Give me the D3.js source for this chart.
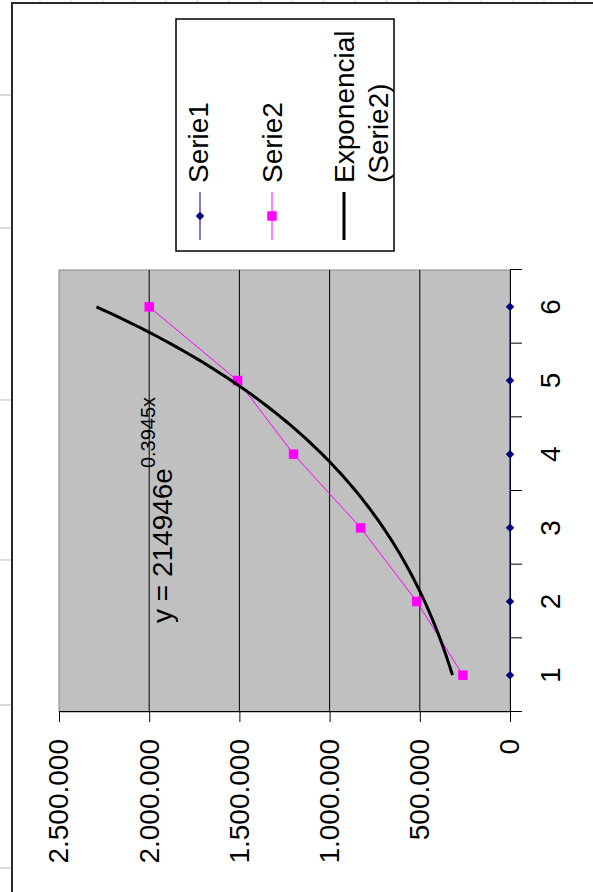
<!DOCTYPE html>
<html>
<head>
<meta charset="utf-8">
<script src="https://cdn.jsdelivr.net/npm/d3@7"></script>
<style>
  html, body { margin: 0; padding: 0; background: #fff; }
  svg { display: block; font-family: Arial, "Liberation Sans", sans-serif; }
</style>
</head>
<body>
<div id="chart"></div>
<script>
(function (d3) {
    'use strict';

    // Data.
    var categories = [1, 2, 3, 4, 5, 6];
    var serie1 = [1, 2, 3, 4, 5, 6];
    var serie2 = [261000, 517000, 828000, 1200000, 1510000, 2000000];
    var valueTicks = [0, 500000, 1000000, 1500000, 2000000, 2500000];
    var gridTicks = [500000, 1000000, 1500000, 2000000];
    var trendA = 214946;
    var trendB = 0.3945;
    var legendNames = ['Serie1', 'Serie2', 'Exponencial', '(Serie2)'];

    var W = 593, H = 892;

    // The chart is drawn upright and then turned a quarter left.
    // u runs along the category axis, v down the value axis.
    var plot = {u0: 180, u1: 622, v0: 59, v1: 510};

    var x = d3.scaleLinear().domain([0.5, 6.5]).range([plot.u0, plot.u1]);
    var y = d3.scaleLinear().domain([0, 2500000]).range([plot.v1, plot.v0]);

    var fmt = d3.formatLocale({decimal: ',', thousands: '.', grouping: [3], currency: ['', '']}).format(',d');

    var svg = d3.select('#chart').append('svg')
        .attr('width', W)
        .attr('height', H);

    // Sheet frame and ruler ticks.
    var rulerY = [95, 228, 400, 560, 705, 868];
    svg.selectAll('.ruler-l').data(rulerY).enter().append('line')
        .attr('x1', 0).attr('x2', 12)
        .attr('y1', function (d) { return d; }).attr('y2', function (d) { return d; })
        .attr('stroke', '#b8b8b8');
    svg.selectAll('.ruler-t').data(d3.range(40, W, 31.5)).enter().append('line')
        .attr('y1', 0).attr('y2', 2)
        .attr('x1', function (d) { return d; }).attr('x2', function (d) { return d; })
        .attr('stroke', '#d8d8d8');
    svg.append('path')
        .attr('d', 'M12,' + H + 'V3H' + W)
        .attr('fill', 'none')
        .attr('stroke', '#2a2a2a')
        .attr('stroke-width', 2);

    var g = svg.append('g')
        .attr('transform', 'translate(0,' + H + ') rotate(-90)');

    // Plot area.
    g.append('rect')
        .attr('x', plot.u0).attr('y', plot.v0)
        .attr('width', plot.u1 - plot.u0).attr('height', plot.v1 - plot.v0)
        .attr('fill', '#c0c0c0')
        .attr('stroke', '#8a8a8a');

    // Gridlines.
    g.selectAll('.grid').data(gridTicks).enter().append('line')
        .attr('x1', plot.u0).attr('x2', plot.u1)
        .attr('y1', function (d) { return y(d); }).attr('y2', function (d) { return y(d); })
        .attr('stroke', '#000');

    // Value axis.
    var yAxis = g.append('g')
        .attr('transform', 'translate(' + plot.u0 + ',0)')
        .call(d3.axisLeft(y).tickValues(valueTicks).tickFormat(fmt).tickSize(10).tickPadding(17));
    yAxis.selectAll('path, line').attr('stroke', '#000');
    yAxis.selectAll('text').attr('font-size', 28).attr('font-family', 'Arial, "Liberation Sans", sans-serif').attr('fill', '#000');

    // Category axis: ticks between categories, labels at the middle.
    var bounds = categories.map(function (c) { return c - 0.5; }).concat([6.5]);
    var xAxis = g.append('g')
        .attr('transform', 'translate(0,' + plot.v1 + ')')
        .call(d3.axisBottom(x).tickValues(bounds).tickFormat('').tickSize(12).tickSizeOuter(0));
    xAxis.selectAll('path, line').attr('stroke', '#000');
    g.selectAll('.cat').data(categories).enter().append('text')
        .attr('x', function (d) { return x(d); })
        .attr('y', 560)
        .attr('text-anchor', 'middle')
        .attr('font-size', 28)
        .text(function (d) { return d; });

    // Excel style markers.
    var diamond = {
        draw: function (ctx, size) {
            var r = Math.sqrt(size / 2);
            ctx.moveTo(0, -r); ctx.lineTo(r, 0); ctx.lineTo(0, r); ctx.lineTo(-r, 0); ctx.closePath();
        }
    };
    var diamondPath = d3.symbol().type(diamond).size(36)();
    var squarePath = d3.symbol().type(d3.symbolSquare).size(90)();

    var line = d3.line()
        .x(function (d, i) { return x(categories[i]); })
        .y(function (d) { return y(d); });

    // Serie1.
    g.append('path').datum(serie1)
        .attr('d', line).attr('fill', 'none').attr('stroke', '#000080');
    g.selectAll('.s1').data(serie1).enter().append('path')
        .attr('d', diamondPath)
        .attr('transform', function (d, i) { return 'translate(' + x(categories[i]) + ',' + y(d) + ')'; })
        .attr('fill', '#000080');

    // Serie2.
    g.append('path').datum(serie2)
        .attr('d', line).attr('fill', 'none').attr('stroke', '#ff00ff');
    g.selectAll('.s2').data(serie2).enter().append('path')
        .attr('d', squarePath)
        .attr('transform', function (d, i) { return 'translate(' + x(categories[i]) + ',' + y(d) + ')'; })
        .attr('fill', '#ff00ff');

    // Exponential trendline of Serie2, from its shown formula.
    var trendX = d3.range(1, 6.001, 0.05);
    g.append('path').datum(trendX)
        .attr('d', d3.line()
            .x(function (d) { return x(d); })
            .y(function (d) { return y(trendA * Math.exp(trendB * d)); }))
        .attr('fill', 'none')
        .attr('stroke', '#000')
        .attr('stroke-width', 3);

    // Equation label.
    var eq = g.append('text')
        .attr('x', 269).attr('y', 172)
        .attr('font-size', 28);
    eq.append('tspan').text('y = ' + trendA + 'e');
    eq.append('tspan').attr('dy', -17).attr('font-size', 20).text(trendB + 'x');

    // Legend.
    var lg = g.append('g').attr('transform', 'translate(641,176)');
    lg.append('rect')
        .attr('width', 232).attr('height', 218)
        .attr('fill', '#fff').attr('stroke', '#000').attr('stroke-width', 1.5);

    var entries = [
        {v: 24, color: '#000080', marker: diamondPath, width: 1},
        {v: 96, color: '#ff00ff', marker: squarePath, width: 1},
        {v: 168, color: '#000', marker: null, width: 3}
    ];
    var entry = lg.selectAll('.entry').data(entries).enter().append('g')
        .attr('transform', function (d) { return 'translate(0,' + d.v + ')'; });
    entry.append('line')
        .attr('x1', 11).attr('x2', 59)
        .attr('stroke', function (d) { return d.color; })
        .attr('stroke-width', function (d) { return d.width; });
    entry.filter(function (d) { return d.marker; }).append('path')
        .attr('d', function (d) { return d.marker; })
        .attr('transform', 'translate(35,0)')
        .attr('fill', function (d) { return d.color; });

    lg.append('text').attr('x', 68).attr('y', 32).attr('font-size', 28).text(legendNames[0]);
    lg.append('text').attr('x', 68).attr('y', 106).attr('font-size', 28).text(legendNames[1]);
    lg.append('text').attr('x', 68).attr('y', 178).attr('font-size', 28).text(legendNames[2]);
    lg.append('text').attr('x', 68).attr('y', 212).attr('font-size', 28).text(legendNames[3]);
})(d3);
</script>
</body>
</html>
